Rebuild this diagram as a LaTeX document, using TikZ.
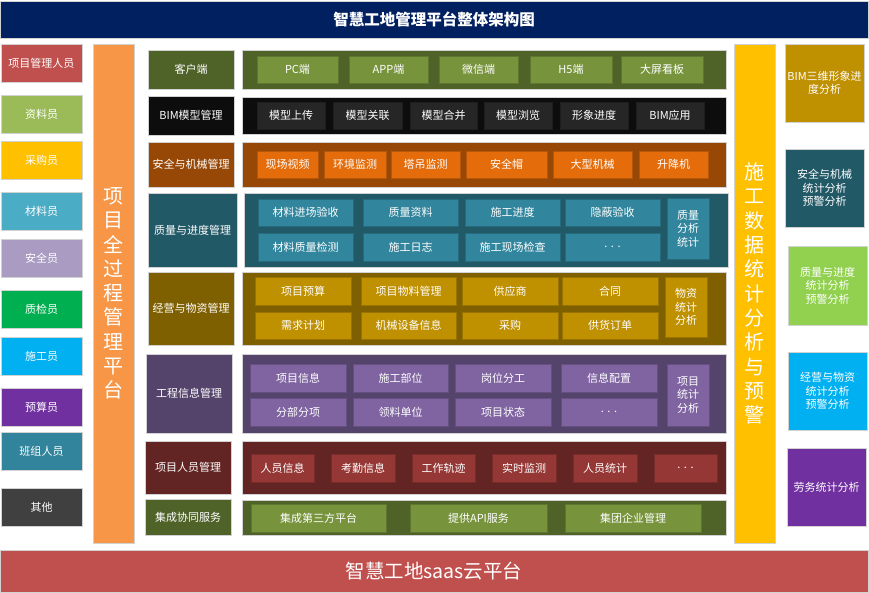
\documentclass[tikz,border=0pt]{standalone}
\usepackage{fontspec}
\setmainfont{Noto Sans CJK SC}

\definecolor{navy}{HTML}{002060}
\definecolor{baseRed}{HTML}{C0504D}
\definecolor{roleGreen}{HTML}{9BBB59}
\definecolor{roleYellow}{HTML}{FFC000}
\definecolor{roleAqua}{HTML}{4BACC6}
\definecolor{roleLilac}{HTML}{A99BC1}
\definecolor{roleLeaf}{HTML}{00B050}
\definecolor{roleSky}{HTML}{00B0F0}
\definecolor{roleViolet}{HTML}{7030A0}
\definecolor{roleSea}{HTML}{31849B}
\definecolor{roleGrey}{HTML}{404040}
\definecolor{barOrange}{HTML}{F79646}
\definecolor{barYellow}{HTML}{FFC000}
\definecolor{oliveD}{HTML}{4F6228}
\definecolor{oliveL}{HTML}{77933C}
\definecolor{blackD}{HTML}{0D0D0D}
\definecolor{blackL}{HTML}{262626}
\definecolor{brownD}{HTML}{974806}
\definecolor{orangeL}{HTML}{E46C0A}
\definecolor{tealD}{HTML}{215967}
\definecolor{tealL}{HTML}{31859C}
\definecolor{goldD}{HTML}{7F6000}
\definecolor{goldL}{HTML}{BF9000}
\definecolor{purpleD}{HTML}{54436A}
\definecolor{purpleL}{HTML}{7F64A1}
\definecolor{redD}{HTML}{632523}
\definecolor{redL}{HTML}{953735}
\definecolor{greenL}{HTML}{92D050}

\tikzset{
  blk/.style={rectangle, inner sep=0pt, align=center, text=white,
    font=\fontsize{11}{13.5}\selectfont},
  band/.style={blk, fill=#1, draw=gray!35, line width=0.8pt},
  cell/.style={blk, fill=#1, draw=#1!80!black, line width=0.8pt},
  tall/.style={font=\fontsize{20}{24.3}\selectfont}
}

% name, style, x1, y1, x2, y2, text
\newcommand{\boxat}[7]{%
  \node[#2, minimum width={#5-#3}, minimum height={#6-#4}] (#1)
    at ({(#3+#5)/2},{(#4+#6)/2}) {#7};}
\newcommand{\more}{.\,\,.\,\,.}

\begin{document}
\begin{tikzpicture}[x=1pt,y=-1pt]
  \useasboundingbox (0,0) rectangle (869,592);

  % title and base
  \boxat{title}{band=navy, font=\fontsize{15.5}{18}\selectfont\bfseries}{0}{1}{868}{38}{智慧工地管理平台整体架构图}
  \boxat{base}{band=baseRed, font=\fontsize{19.5}{22}\selectfont}{0}{550}{868}{592}{智慧工地saas云平台}

  % roles
  \foreach \ya/\yb/\col/\txt [count=\i] in {44/82/baseRed/项目管理人员, 95/133/roleGreen/资料员,
      141/179/roleYellow/采购员, 192/230/roleAqua/材料员, 239/277/roleLilac/安全员,
      290/328/roleLeaf/质检员, 337/375/roleSky/施工员, 388/426/roleViolet/预算员,
      432/470/roleSea/班组人员, 488/526/roleGrey/其他}{
    \boxat{role\i}{band=\col}{1}{\ya}{82}{\yb}{\txt}
  }

  % side bars
  \boxat{lifecycle}{band=barOrange, tall}{93}{44}{134}{543}{项\\目\\全\\过\\程\\管\\理\\平\\台}
  \boxat{analytics}{band=barYellow, tall}{734}{44}{775}{543}{施\\工\\数\\据\\统\\计\\分\\析\\与\\预\\警}

  % categories and bands
  \foreach \xa/\ya/\xb/\yb/\col/\txt [count=\i] in {148/50/234/89/oliveD/客户端,
      148/96/234/135/blackD/BIM模型管理, 148/142/234/187/brownD/安全与机械管理,
      148/193/237/267/tealD/质量与进度管理, 148/272/234/345/goldD/经营与物资管理,
      146/354/232/433/purpleD/工程信息管理, 145/441/231/494/redD/项目人员管理,
      145/499/231/535/oliveD/集成协同服务}{
    \boxat{cat\i}{band=\col}{\xa}{\ya}{\xb}{\yb}{\txt}
  }
  \foreach \xa/\ya/\xb/\yb/\col [count=\i] in {242/50/726/89/oliveD, 242/97/726/134/blackD,
      242/142/726/187/brownD, 244/193/728/267/tealD, 242/272/726/345/goldD,
      242/354/726/433/purpleD, 242/441/726/494/redD, 242/500/726/535/oliveD}{
    \boxat{band\i}{band=\col}{\xa}{\ya}{\xb}{\yb}{}
  }

  % band items
  \foreach \xa/\xb/\txt [count=\i] in {257/338/PC端, 349/428/APP端, 439/518/微信端,
      530/612/H5端, 621/703/大屏看板}{
    \boxat{client\i}{cell=oliveL}{\xa}{56}{\xb}{83}{\txt}
  }
  \foreach \xa/\xb/\txt [count=\i] in {257/325/模型上传, 333/402/模型关联, 410/477/模型合并,
      484/552/模型浏览, 560/628/形象进度, 636/704/BIM应用}{
    \boxat{bim\i}{cell=blackL}{\xa}{102}{\xb}{129}{\txt}
  }
  \foreach \xa/\xb/\txt [count=\i] in {257/318/现场视频, 324/386/环境监测, 391/460/塔吊监测,
      466/547/安全帽, 553/632/大型机械, 639/708/升降机}{
    \boxat{safe\i}{cell=orangeL}{\xa}{151}{\xb}{178}{\txt}
  }
  \foreach \xa/\ya/\xb/\yb/\txt [count=\i] in {258/199/353/226/材料进场验收,
      363/199/458/226/质量资料, 465/199/560/226/施工进度, 565/199/660/226/隐蔽验收,
      258/233/353/261/材料质量检测, 363/233/458/261/施工日志,
      465/233/560/261/施工现场检查, 565/233/660/261/\more,
      667/198/709/259/质量\\分析\\统计}{
    \boxat{quality\i}{cell=tealL}{\xa}{\ya}{\xb}{\yb}{\txt}
  }
  \foreach \xa/\ya/\xb/\yb/\txt [count=\i] in {255/277/351/305/项目预算,
      361/277/456/305/项目物料管理, 462/277/558/305/供应商, 562/277/658/305/合同,
      255/312/351/339/需求计划, 361/312/456/339/机械设备信息,
      462/312/558/339/采购, 562/312/658/339/供货订单,
      665/277/707/337/物资\\统计\\分析}{
    \boxat{supply\i}{cell=goldL}{\xa}{\ya}{\xb}{\yb}{\txt}
  }
  \foreach \xa/\ya/\xb/\yb/\txt [count=\i] in {250/364/346/392/项目信息,
      353/364/448/392/施工部位, 455/364/551/392/岗位分工, 561/364/657/392/信息配置,
      250/398/346/426/分部分项, 353/398/448/426/领料单位,
      455/398/551/426/项目状态, 561/398/657/426/\more,
      667/364/709/426/项目\\统计\\分析}{
    \boxat{info\i}{cell=purpleL}{\xa}{\ya}{\xb}{\yb}{\txt}
  }
  \foreach \xa/\xb/\txt [count=\i] in {251/314/人员信息, 331/395/考勤信息, 412/475/工作轨迹,
      492/556/实时监测, 573/637/人员统计, 654/717/\more}{
    \boxat{staff\i}{cell=redL}{\xa}{454}{\xb}{482}{\txt}
  }
  \foreach \xa/\xb/\txt [count=\i] in {251/386/集成第三方平台, 410/547/提供API服务,
      565/701/集团企业管理}{
    \boxat{link\i}{cell=oliveL}{\xa}{504}{\xb}{532}{\txt}
  }

  % analysis outputs
  \foreach \xa/\ya/\xb/\yb/\col/\txt [count=\i] in {785/44/864/122/goldL/BIM三维形象进\\度分析,
      785/149/864/227/tealD/安全与机械\\统计分析\\预警分析,
      788/246/867/325/greenL/质量与进度\\统计分析\\预警分析,
      788/352/867/430/roleSky/经营与物资\\统计分析\\预警分析,
      787/448/866/526/roleViolet/劳务统计分析}{
    \boxat{report\i}{band=\col}{\xa}{\ya}{\xb}{\yb}{\txt}
  }
\end{tikzpicture}
\end{document}
